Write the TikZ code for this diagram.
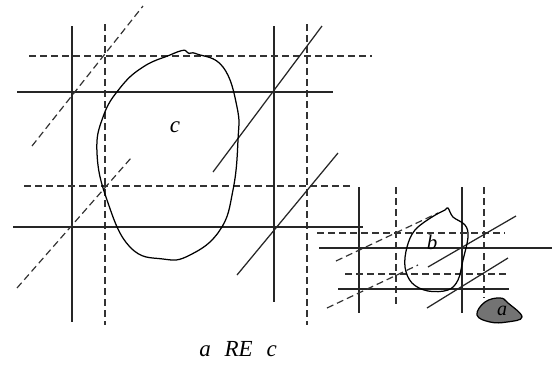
\documentclass[tikz,border=0pt]{standalone}
\usepackage{fontspec}
\setmainfont{Liberation Serif}
\begin{document}
\begin{tikzpicture}[x=1pt,y=-1pt,
  solidline/.style={line width=1.25pt,draw=black!85},
  dashline/.style={line width=1.2pt,draw=black!80,dash pattern=on 7pt off 4pt},
  blob/.style={line width=1.25pt,draw=black},
  lbl/.style={font=\fontsize{23}{23}\selectfont\itshape,inner sep=0pt}]
\useasboundingbox (0,0) rectangle (555,365);
% big figure grid
\draw[solidline] (72,26) -- (72,322);
\draw[dashline] (105,24) -- (105,325);
\draw[solidline] (274,26) -- (274,302);
\draw[dashline] (307,24) -- (307,325);
\draw[dashline] (29,56) -- (372,56);
\draw[solidline] (17,92) -- (333,92);
\draw[dashline] (24,186) -- (352,186);
\draw[solidline] (13,227) -- (363,227);
\draw[dashline] (32,146) -- (143,6);
\draw[dashline] (17,288) -- (131,158);
\draw[solidline] (213,172) -- (322,26);
\draw[solidline] (237,275) -- (338,153);
% blob c
\draw[blob] plot[smooth cycle,tension=0.75] coordinates {
  (170,55) (182,50.5) (186,51) (189,53.5) (197,54) (223,67) (237,107) (238,140)
  (233,190) (220,230) (190,255) (163,259) (130,247) (107,200) (97,153)
  (103,117) (120,88) (143,67)};
\node[lbl] (c) at (175,127) {c};
% small figure grid
\draw[solidline] (359,187) -- (359,313);
\draw[dashline] (396,187) -- (396,307);
\draw[solidline] (462,187) -- (462,313);
\draw[dashline] (484,187) -- (484,298);
\draw[dashline] (317,233) -- (505,233);
\draw[solidline] (319,248) -- (552,248);
\draw[dashline] (345,274) -- (509,274);
\draw[solidline] (338,289) -- (509,289);
\draw[dashline] (336,261) -- (438,213);
\draw[dashline] (327,308) -- (418,265);
\draw[solidline] (428,267) -- (516,216);
\draw[solidline] (427,308) -- (508,258);
% blob b
\draw[blob] plot[smooth cycle,tension=0.6] coordinates {
  (448,208) (453,217) (465,225) (468,237) (463,260) (458,280) (448,290)
  (428,291) (412,283) (405,267) (407,247) (415,230) (432,217) (445,210)};
\node[lbl,font=\fontsize{21}{21}\selectfont\itshape] (b) at (432,242) {b};
% blob a
\draw[blob,fill=black!55] plot[smooth cycle,tension=0.7] coordinates {
  (477,315) (485,302) (500,298) (508,303) (522,317) (507,322) (490,322)};
\node[lbl,font=\fontsize{20}{20}\selectfont\itshape] (a) at (502,311) {a};
% caption
\node[lbl] (cap) at (238,349) {a\hspace{0.6em}RE\hspace{0.6em}c};
\end{tikzpicture}
\end{document}
